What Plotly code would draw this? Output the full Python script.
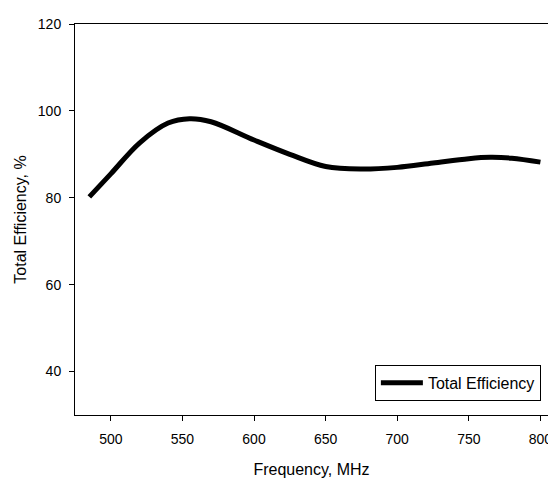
import plotly.graph_objects as go

freq_mhz = [485, 500, 520, 540, 555, 570, 600, 625, 650, 675, 700, 725, 750, 765, 780, 800]
total_efficiency = [80.2, 85.5, 92.6, 97.2, 98.2, 97.5, 93.3, 90.0, 87.2, 86.6, 87.0, 88.0, 89.0, 89.3, 89.1, 88.2]

x_ticks = [500, 550, 600, 650, 700, 750, 800]
y_ticks = [40, 60, 80, 100, 120]

fig = go.Figure()
fig.add_trace(go.Scatter(
    x=freq_mhz, y=total_efficiency, mode="lines", name="Total Efficiency",
    line=dict(color="black", width=5, shape="spline", smoothing=1.0),
))

font = "Liberation Sans, Arial, sans-serif"
fig.update_layout(
    width=548, height=479,
    margin=dict(l=75, r=0, t=24, b=64),
    plot_bgcolor="white", paper_bgcolor="white",
    font=dict(family=font, color="black", size=14),
    showlegend=True,
    legend=dict(
        x=0.634, y=0.128, xanchor="left", yanchor="top",
        bordercolor="black", borderwidth=1, bgcolor="white",
        font=dict(size=16, family=font, color="black"),
        itemwidth=42,
    ),
    xaxis=dict(
        range=[475, 805.3], tickvals=x_ticks, ticks="outside", ticklen=5,
        tickcolor="black", showline=True, linecolor="black", linewidth=1,
        mirror=True, showgrid=False, zeroline=False,
        ticklabeloverflow="allow", ticklabelstandoff=6,
        title=dict(text="Frequency, MHz", font=dict(size=16), standoff=18),
        automargin=False,
    ),
    yaxis=dict(
        range=[30, 120], tickvals=y_ticks, ticks="outside", ticklen=5,
        tickcolor="black", showline=True, linecolor="black", linewidth=1,
        showgrid=False, zeroline=False, ticklabelstandoff=5,
        title=dict(text="Total Efficiency, %", font=dict(size=16), standoff=7),
        automargin=False,
    ),
)

fig.write_html("out.html")
